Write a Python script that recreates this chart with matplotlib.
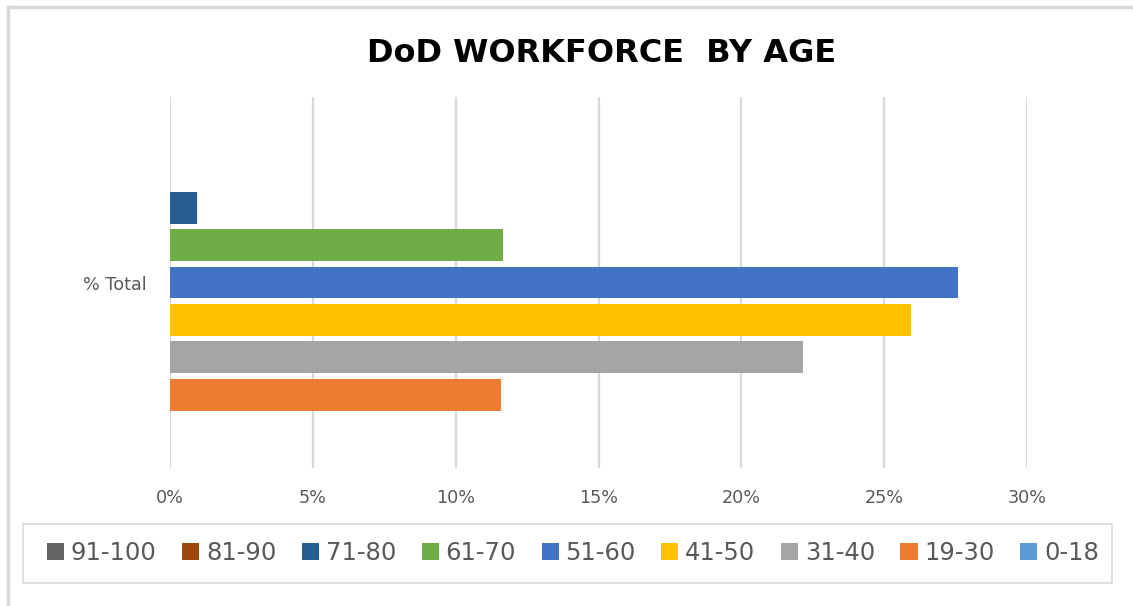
import matplotlib
matplotlib.use("Agg")
import matplotlib.pyplot as plt
from matplotlib.patches import Rectangle
from matplotlib.ticker import FuncFormatter

# series, top to bottom in the chart
age_groups = ["91-100", "81-90", "71-80", "61-70", "51-60", "41-50", "31-40", "19-30", "0-18"]
pct_total = [0.0, 0.0, 0.95, 11.65, 27.58, 25.94, 22.16, 11.59, 0.0]
colors = ["#636363", "#9E480E", "#255E91", "#70AD47", "#4472C4",
          "#FFC000", "#A5A5A5", "#ED7D31", "#5B9BD5"]
category = "% Total"
x_ticks = [0, 5, 10, 15, 20, 25, 30]

plt.rcParams["font.family"] = ["DejaVu Sans"]

W, H = 1133, 606
fig = plt.figure(figsize=(W / 100, H / 100), dpi=100)
ax = fig.add_axes([170 / W, 1 - 468 / H, 857 / W, 371 / H])

handles = []
for i, (name, val, col) in enumerate(zip(age_groups, pct_total, colors)):
    b = ax.barh(i, val, height=0.855, color=col, edgecolor="none", label=name, zorder=3)
    handles.append(b)

ax.set_xlim(0, 30)
ax.set_ylim(8.96, -0.96)
ax.set_xticks(x_ticks)
ax.xaxis.set_major_formatter(FuncFormatter(lambda v, p: f"{v:.0f}%"))
ax.set_yticks([4])
ax.set_yticklabels([category])
ax.tick_params(axis="both", length=0, labelcolor="#595959", labelsize=12.7)
ax.tick_params(axis="x", pad=15)
ax.tick_params(axis="y", pad=16.5)
ax.grid(axis="x", color="#D9D9D9", linewidth=1.6, zorder=0)
for s in ax.spines.values():
    s.set_visible(False)

fig.text(602 / W, 1 - 54 / H, "DoD WORKFORCE  BY AGE", ha="center", va="center",
         fontsize=23, fontweight="bold", color="#000000")

# outer chart frame (top and left edges visible)
fig.add_artist(plt.Line2D([8 / W, 1], [1 - 7 / H, 1 - 7 / H], color="#D9D9D9", linewidth=2.5))
fig.add_artist(plt.Line2D([8 / W, 8 / W], [0, 1 - 7 / H], color="#D9D9D9", linewidth=2.5))

# legend box
fig.add_artist(Rectangle((23 / W, 1 - 583 / H), 1089 / W, 59 / H, transform=fig.transFigure,
                         facecolor="none", edgecolor="#D9D9D9", linewidth=1.2))
leg = fig.legend(handles=handles, labels=age_groups, ncol=9, loc="center",
                 bbox_to_anchor=(573 / W, 1 - 553 / H), fontsize=17.5, frameon=False,
                 handlelength=0.7, handleheight=0.7, handletextpad=0.28,
                 columnspacing=1.05, borderaxespad=0, borderpad=0)
for t in leg.get_texts():
    t.set_color("#595959")

fig.savefig("out.png", dpi=100, facecolor="white")
